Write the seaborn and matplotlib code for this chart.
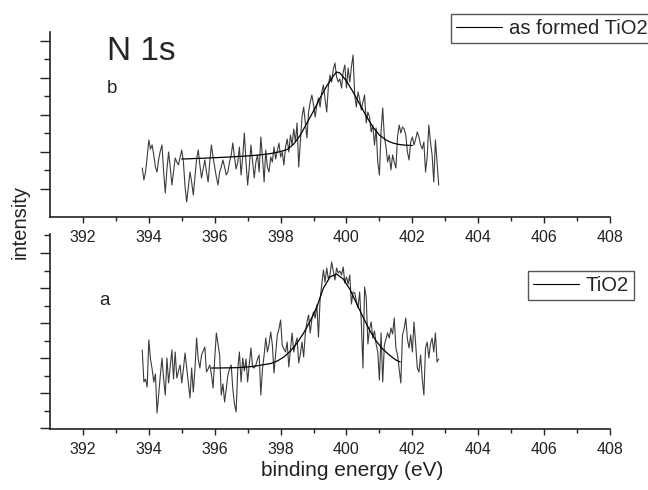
import numpy as np
import pandas as pd
import matplotlib
matplotlib.use("Agg")
import matplotlib.pyplot as plt
import seaborn as sns

# N 1s XPS spectra: measured counts (arbitrary units) on a 0.05 eV grid, plus fitted peak envelopes
E_START = 393.80
E_STEP = 0.05

counts_b = [
    49, 37, 45, 60, 77, 68, 72, 62, 50, 45,
    58, 66, 72, 45, 24, 48, 65, 50, 32, 45,
    59, 55, 52, 60, 67, 55, 30, 15, 30, 45,
    35, 22, 40, 58, 67, 52, 39, 48, 57, 45,
    35, 55, 72, 60, 50, 40, 32, 45, 50, 57,
    50, 42, 45, 55, 62, 74, 60, 48, 55, 70,
    42, 60, 84, 55, 32, 50, 72, 55, 39, 55,
    62, 45, 80, 60, 35, 67, 50, 45, 60, 55,
    70, 58, 66, 74, 60, 65, 52, 70, 78, 65,
    82, 72, 88, 75, 94, 50, 75, 100, 110, 95,
    79, 105, 115, 122, 112, 100, 112, 119, 110, 125,
    132, 118, 105, 130, 142, 135, 148, 154, 140, 135,
    138, 129, 145, 152, 129, 149, 135, 150, 162, 122,
    110, 125, 118, 107, 115, 122, 94, 105, 100, 85,
    92, 72, 89, 55, 42, 85, 109, 80, 70, 55,
    62, 47, 62, 55, 49, 80, 92, 84, 90, 88,
    82, 65, 57, 75, 80, 72, 78, 85, 80, 72,
    68, 75, 45, 60, 92, 75, 62, 35, 77, 55,
    32,
]

counts_a = [
    79, 47, 50, 42, 89, 70, 60, 47, 55, 16,
    35, 54, 71, 50, 34, 71, 46, 62, 79, 50,
    77, 51, 58, 64, 46, 60, 76, 61, 45, 31,
    61, 37, 60, 91, 70, 61, 74, 78, 82, 57,
    60, 64, 55, 41, 70, 96, 85, 74, 34, 45,
    27, 40, 54, 60, 64, 40, 25, 17, 60, 77,
    47, 71, 58, 70, 47, 65, 81, 62, 61, 64,
    70, 74, 34, 60, 74, 91, 77, 85, 97, 84,
    56, 75, 94, 100, 109, 84, 80, 77, 87, 62,
    80, 96, 77, 85, 91, 66, 75, 87, 72, 95,
    107, 114, 96, 110, 117, 111, 124, 92, 130, 145,
    159, 147, 161, 150, 154, 167, 158, 149, 161, 156,
    158, 154, 162, 146, 152, 145, 154, 125, 137, 136,
    128, 121, 137, 107, 61, 142, 131, 85, 100, 107,
    91, 98, 85, 77, 49, 96, 47, 84, 90, 96,
    91, 101, 95, 111, 81, 74, 60, 46, 94, 100,
    111, 90, 81, 94, 77, 107, 85, 61, 57, 74,
    50, 34, 81, 87, 71, 85, 91, 77, 96, 67,
    70,
]

fit_b_energy = [395.0, 395.2, 395.4, 395.6, 395.8, 396.0, 396.2, 396.4, 396.6, 396.8,
                397.0, 397.2, 397.4, 397.6, 397.8, 398.0, 398.2, 398.4, 398.6, 398.8,
                399.0, 399.2, 399.4, 399.6, 399.7, 399.8, 400.0, 400.2, 400.4, 400.6,
                400.8, 401.0, 401.2, 401.4, 401.6, 401.8, 402.0]
fit_b = [58.0, 58.2, 58.5, 58.7, 59.0, 59.3, 59.6, 59.9, 60.3, 60.7,
         61.1, 61.6, 62.2, 63.0, 64.0, 65.5, 67.5, 73.0, 82.0, 94.0,
         106.0, 119.0, 131.0, 141.0, 145.0, 144.0, 136.0, 125.0, 113.0, 101.0,
         90.0, 82.0, 77.0, 74.0, 72.5, 71.8, 71.5]

fit_a_energy = [395.9, 396.1, 396.3, 396.5, 396.7, 396.9, 397.1, 397.3, 397.5, 397.7,
                397.9, 398.1, 398.3, 398.5, 398.7, 398.9, 399.1, 399.3, 399.5, 399.7,
                399.9, 400.1, 400.3, 400.5, 400.7, 400.9, 401.1, 401.3, 401.5, 401.63]
fit_a = [61.0, 61.0, 61.1, 61.2, 61.4, 61.8, 62.4, 63.3, 64.4, 65.5,
         68.0, 72.0, 78.0, 86.0, 96.0, 108.0, 122.0, 141.0, 152.0, 155.0,
         150.0, 140.0, 126.0, 112.0, 99.0, 88.0, 80.0, 74.0, 69.0, 67.0]

label_b = "as formed TiO2"
label_a = "TiO2"
x_ticks = [392, 394, 396, 398, 400, 402, 404, 406, 408]
x_tick_labels = ["392", "394", "396", "398", "400", "402", "404", "406", "408"]

energy = np.round(E_START + E_STEP * np.arange(len(counts_b)), 2)
df_b = pd.DataFrame({"energy": energy, "counts": counts_b})
df_a = pd.DataFrame({"energy": energy, "counts": counts_a})
df_fit_b = pd.DataFrame({"energy": fit_b_energy, "counts": fit_b})
df_fit_a = pd.DataFrame({"energy": fit_a_energy, "counts": fit_a})

sns.set_style("ticks")
plt.rcParams["font.family"] = ["Liberation Sans", "DejaVu Sans"]

W, H = 648, 490
fig = plt.figure(figsize=(W / 100, H / 100), dpi=100)
ax_b = fig.add_axes([50 / W, 1 - 217 / H, 560 / W, 185 / H])
ax_a = fig.add_axes([50 / W, 1 - 429 / H, 560 / W, 195 / H])

data_color = "#3c3c3c"
spine_color = "#222222"

panels = [
    (ax_b, df_b, df_fit_b, label_b, 185, (451 / W, 1 - 14 / H)),
    (ax_a, df_a, df_fit_a, label_a, 195, (528 / W, 1 - 271 / H)),
]

for ax, df, dfit, lab, ytop, leg_pos in panels:
    ax.patch.set_alpha(0)
    sns.lineplot(data=df, x="energy", y="counts", ax=ax, color=data_color,
                 linewidth=0.8, estimator=None, sort=False)
    sns.lineplot(data=dfit, x="energy", y="counts", ax=ax, color="black",
                 linewidth=0.9, estimator=None, sort=False)
    ax.set_xlim(391, 408)
    ax.set_ylim(0, ytop)
    ax.set_xticks(x_ticks)
    ax.set_xticklabels(x_tick_labels)
    ax.set_xticks(np.arange(393, 408, 2), minor=True)
    major_y = np.arange(ytop - 9, 0, -37)[::-1] if ytop == 185 else np.arange(176, 0, -35)[::-1]
    minor_y = major_y + (18.5 if ytop == 185 else 17.5)
    ax.set_yticks(major_y)
    ax.set_yticks(minor_y[minor_y <= ytop], minor=True)
    ax.set_yticklabels([])
    ax.set_xlabel("")
    ax.set_ylabel("")
    ax.tick_params(axis="x", which="major", length=4, width=1.0, direction="out",
                   labelsize=11.5, pad=5, colors=spine_color, labelcolor="#222222")
    ax.tick_params(axis="x", which="minor", length=3, width=1.0, direction="out",
                   colors=spine_color)
    ax.tick_params(axis="y", which="major", length=7, width=1.0, direction="out",
                   colors=spine_color)
    ax.tick_params(axis="y", which="minor", length=4, width=1.0, direction="out",
                   colors=spine_color)
    sns.despine(ax=ax)
    for side in ("left", "bottom"):
        ax.spines[side].set_color(spine_color)
        ax.spines[side].set_linewidth(1.2)
    leg = ax.legend([ax.lines[0]], [lab], loc="upper left", bbox_to_anchor=leg_pos,
                    bbox_transform=fig.transFigure, fontsize=14.6, frameon=True,
                    fancybox=False, framealpha=1, edgecolor="#555555",
                    borderpad=0.25, borderaxespad=0, handlelength=2.25,
                    handletextpad=0.35)
    leg.get_frame().set_linewidth(1.0)
    leg.legend_handles[0].set_color("black")
    leg.legend_handles[0].set_linewidth(0.8)

fig.text(107 / W, 1 - 60 / H, "N 1s", fontsize=24, ha="left", va="baseline")
fig.text(107 / W, 1 - 93 / H, "b", fontsize=13.5, ha="left", va="baseline")
fig.text(99 / W, 1 - 305 / H, "a", fontsize=13.5, ha="left", va="baseline")
fig.text(20 / W, 1 - 222 / H, "intensity", fontsize=14.5, rotation=90,
         ha="center", va="center", color="#222222")
fig.text(352 / W, 1 - 470 / H, "binding energy (eV)", fontsize=15,
         ha="center", va="center", color="#222222")

fig.savefig("out.png", dpi=100)
